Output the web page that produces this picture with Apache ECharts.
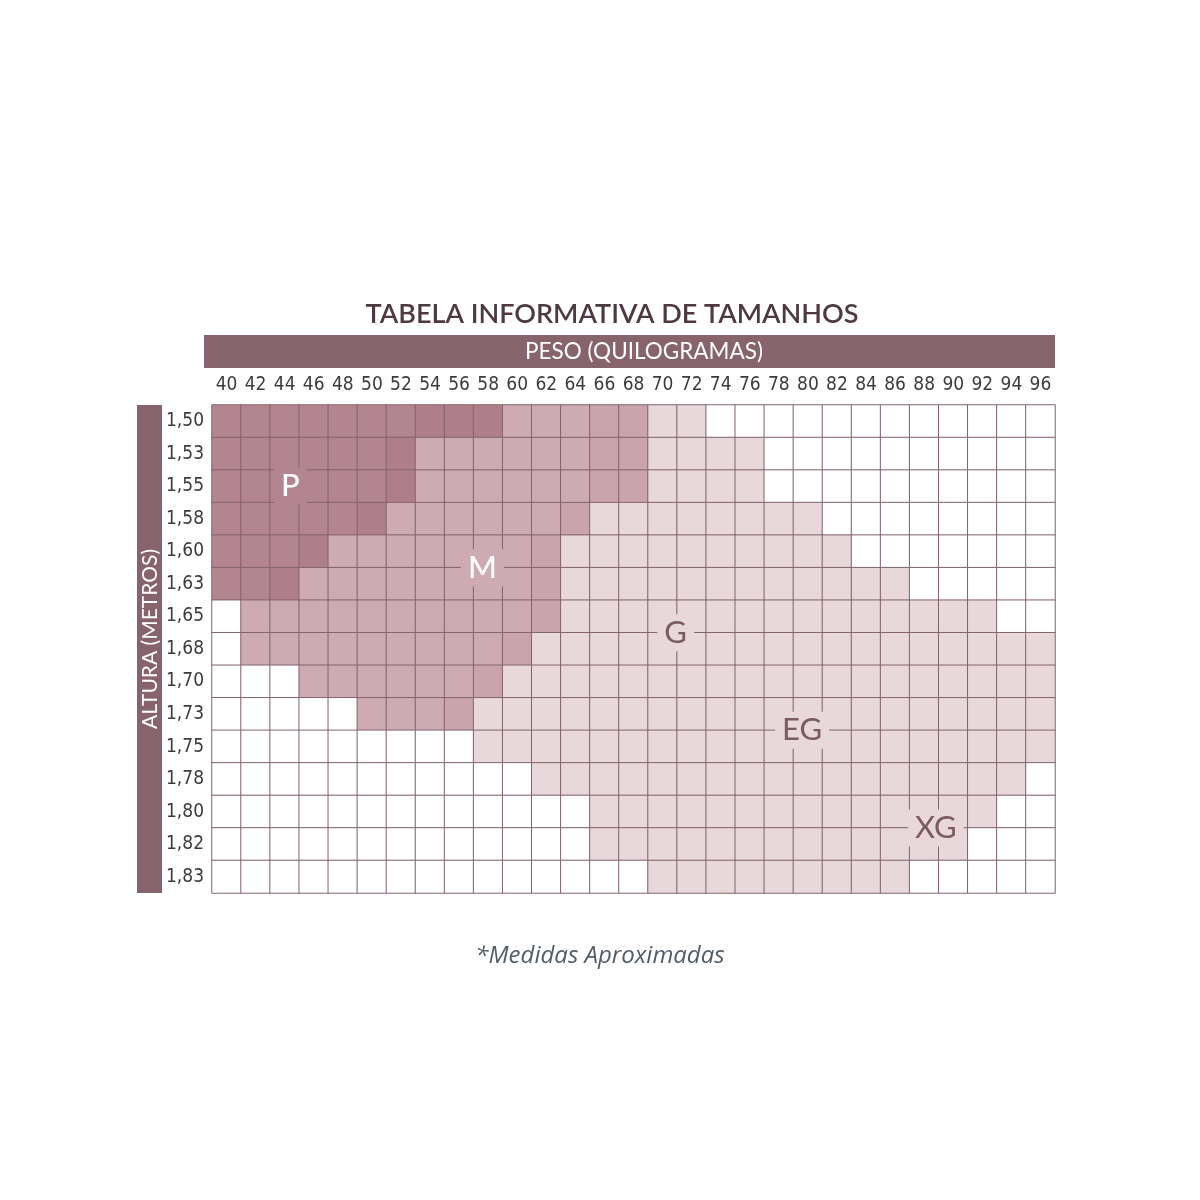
<!DOCTYPE html>
<html>
<head>
<meta charset="utf-8">
<title>Tabela informativa de tamanhos</title>
<script src="https://cdn.jsdelivr.net/npm/echarts@6/dist/echarts.min.js"></script>
<style>
  html, body { margin: 0; padding: 0; background: #fff; }
  #chart { width: 1200px; height: 1200px; }
</style>
</head>
<body>
<div id="chart"></div>
<script>
// peso (quilogramas) - colunas
const weights = [40, 42, 44, 46, 48, 50, 52, 54, 56, 58, 60, 62, 64, 66, 68, 70,
  72, 74, 76, 78, 80, 82, 84, 86, 88, 90, 92, 94, 96];
// altura (metros) - linhas
const heights = ['1,50', '1,53', '1,55', '1,58', '1,60', '1,63', '1,65', '1,68',
  '1,70', '1,73', '1,75', '1,78', '1,80', '1,82', '1,83'];
// tom de cada celula, uma string por linha (um digito por coluna)
// 0 = vazio, 1 = G/EG/XG, 2 = M, 3 = M+G, 4 = P, 5 = P+M
const sizeRows = [
  '4444444' + '555' + '222' + '33' + '11' + '000000000000',
  '444444' + '5' + '222222' + '33' + '1111' + '0000000000',
  '444444' + '5' + '222222' + '33' + '1111' + '0000000000',
  '44444' + '5' + '222222' + '3' + '11111111' + '00000000',
  '444' + '5' + '2222222' + '3' + '1111111111' + '0000000',
  '44' + '5' + '22222222' + '3' + '111111111111' + '00000',
  '0' + '2222222222' + '3' + '111111111111111' + '00',
  '0' + '222222222' + '3' + '111111111111111111',
  '000' + '222222' + '3' + '1111111111111111111',
  '00000' + '222' + '3' + '11111111111111111111',
  '000000000' + '11111111111111111111',
  '00000000000' + '11111111111111111' + '0',
  '0000000000000' + '11111111111111' + '00',
  '0000000000000' + '1111111111111' + '000',
  '000000000000000' + '111111111' + '00000'
];
// nomes dos tamanhos, posicao em indice de coluna / linha
const sizeNames = ['P', 'M', 'G', 'EG', 'XG'];
const nameCols = [2.2, 8.8, 15.45, 19.8, 24.4];
const nameRows = [2.0, 4.5, 6.5, 9.5, 12.5];

const shadeColors = ['#ffffff', '#e8d7db', '#ceabb3', '#c9a4ac', '#b38590', '#ae7f8a'];
const nameShade = [4, 2, 1, 1, 1];

let cells = [];
sizeRows.forEach(function (row, r) {
  for (let c = 0; c < weights.length; c++) {
    cells.push([c, r, Number(row[c])]);
  }
});

let labelData = sizeNames.map(function (n, i) {
  let dark = nameShade[i] >= 2;
  return {
    name: n,
    value: [nameCols[i], nameRows[i]],
    label: {
      color: dark ? '#ffffff' : '#7b5a63',
      backgroundColor: shadeColors[nameShade[i]],
      fontWeight: dark ? 500 : 400
    }
  };
});

let myChart = echarts.init(document.getElementById('chart'));
const tickFont = '"Liberation Sans Narrow", "DejaVu Sans Condensed", sans-serif';

myChart.setOption({
  animation: false,
  backgroundColor: '#ffffff',
  grid: {
    left: 212,
    top: 405,
    width: 843,
    height: 488
  },
  xAxis: [{
    type: 'category',
    data: weights,
    position: 'top',
    axisLine: { show: false },
    axisTick: { show: false },
    splitLine: { show: false },
    axisLabel: {
      color: '#3c3c3c',
      fontSize: 19,
      fontFamily: tickFont,
      margin: 10
    }
  }, {
    type: 'value',
    min: -0.5,
    max: 28.5,
    show: false
  }],
  yAxis: [{
    type: 'category',
    data: heights,
    inverse: true,
    axisLine: { show: false },
    axisTick: { show: false },
    splitLine: { show: false },
    axisLabel: {
      color: '#3c3c3c',
      fontSize: 19,
      fontFamily: tickFont,
      margin: 8
    }
  }, {
    type: 'value',
    min: -0.5,
    max: 14.5,
    inverse: true,
    show: false
  }],
  visualMap: {
    type: 'piecewise',
    show: false,
    dimension: 2,
    seriesIndex: 0,
    pieces: shadeColors.map(function (color, i) {
      return { value: i, color: color };
    })
  },
  series: [{
    type: 'heatmap',
    data: cells,
    itemStyle: {
      borderColor: '#83646c',
      borderWidth: 1
    },
    emphasis: { disabled: true }
  }, {
    type: 'scatter',
    xAxisIndex: 1,
    yAxisIndex: 1,
    symbolSize: 0,
    z: 5,
    itemStyle: { opacity: 1 },
    emphasis: { disabled: true },
    data: labelData,
    label: {
      show: true,
      position: 'inside',
      formatter: '{b}',
      fontSize: 31,
      fontFamily: 'Lato, sans-serif',
      padding: [4, 7, 2, 7]
    }
  }],
  graphic: [{
    type: 'text',
    x: 612,
    y: 314,
    style: {
      text: 'TABELA INFORMATIVA DE TAMANHOS',
      textAlign: 'center',
      textVerticalAlign: 'middle',
      fill: '#4d393f',
      fontSize: 27,
      fontWeight: 600,
      fontFamily: 'Lato, sans-serif'
    }
  }, {
    type: 'rect',
    shape: { x: 204, y: 335, width: 851, height: 33 },
    style: { fill: '#87636c' }
  }, {
    type: 'text',
    x: 644,
    y: 352,
    style: {
      text: 'PESO (QUILOGRAMAS)',
      textAlign: 'center',
      textVerticalAlign: 'middle',
      fill: '#ffffff',
      fontSize: 22.5,
      fontFamily: 'Lato, sans-serif'
    }
  }, {
    type: 'rect',
    shape: { x: 137, y: 405, width: 25, height: 488 },
    style: { fill: '#87636c' }
  }, {
    type: 'text',
    x: 150,
    y: 639,
    rotation: Math.PI / 2,
    style: {
      text: 'ALTURA (METROS)',
      textAlign: 'center',
      textVerticalAlign: 'middle',
      fill: '#ffffff',
      fontSize: 21,
      fontFamily: 'Lato, sans-serif'
    }
  }, {
    type: 'text',
    x: 600,
    y: 956,
    style: {
      text: '*Medidas Aproximadas',
      textAlign: 'center',
      textVerticalAlign: 'middle',
      fill: '#525d68',
      fontSize: 24,
      fontStyle: 'italic',
      fontFamily: '"Open Sans", sans-serif'
    }
  }]
});

window.addEventListener('resize', function () {
  myChart.resize();
});
</script>
</body>
</html>
